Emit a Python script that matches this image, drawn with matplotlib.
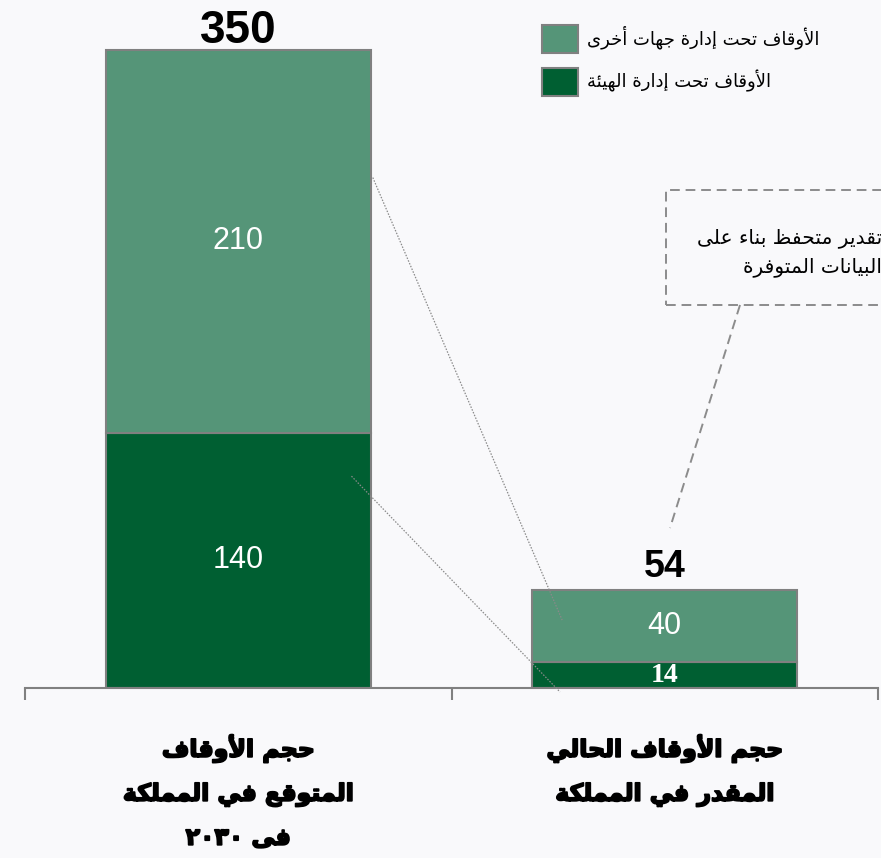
"""Stacked bars: estimated vs. expected waqf volume in the Kingdom (Arabic labels)."""

import re
import unicodedata

import matplotlib

matplotlib.use("Agg")
import matplotlib.patheffects as pe
import matplotlib.pyplot as plt
from matplotlib.lines import Line2D
from matplotlib.patches import Rectangle

# --- data ---------------------------------------------------------------
CATEGORIES = ["حجم الأوقاف\nالمتوقع في المملكة\nفى ٢٠٣٠", "حجم الأوقاف الحالي\nالمقدر في المملكة"]
AUTHORITY = [140, 14]      # الأوقاف تحت إدارة الهيئة
OTHERS = [210, 40]         # الأوقاف تحت إدارة جهات أخرى
TOTALS = [350, 54]
SERIES_LABELS = ["الأوقاف تحت إدارة جهات أخرى", "الأوقاف تحت إدارة الهيئة"]
NOTE = "تقدير متحفظ بناء على\nالبيانات المتوفرة"

DARK = "#005F32"
LIGHT = "#559578"
EDGE = "#808080"
BG = "#F9F9FB"

# --- minimal Arabic shaping (matplotlib has no complex text layout) -----
_LETTERS = [
    ("ء", 0xFE80, 1), ("آ", 0xFE81, 2), ("أ", 0xFE83, 2), ("ؤ", 0xFE85, 2),
    ("إ", 0xFE87, 2), ("ئ", 0xFE89, 4), ("ا", 0xFE8D, 2), ("ب", 0xFE8F, 4),
    ("ة", 0xFE93, 2), ("ت", 0xFE95, 4), ("ث", 0xFE99, 4), ("ج", 0xFE9D, 4),
    ("ح", 0xFEA1, 4), ("خ", 0xFEA5, 4), ("د", 0xFEA9, 2), ("ذ", 0xFEAB, 2),
    ("ر", 0xFEAD, 2), ("ز", 0xFEAF, 2), ("س", 0xFEB1, 4), ("ش", 0xFEB5, 4),
    ("ص", 0xFEB9, 4), ("ض", 0xFEBD, 4), ("ط", 0xFEC1, 4), ("ظ", 0xFEC5, 4),
    ("ع", 0xFEC9, 4), ("غ", 0xFECD, 4), ("ف", 0xFED1, 4), ("ق", 0xFED5, 4),
    ("ك", 0xFED9, 4), ("ل", 0xFEDD, 4), ("م", 0xFEE1, 4), ("ن", 0xFEE5, 4),
    ("ه", 0xFEE9, 4), ("و", 0xFEED, 2), ("ى", 0xFEEF, 2), ("ي", 0xFEF1, 4),
]
FORMS = {ch: tuple(chr(start + k) for k in range(n)) for ch, start, n in _LETTERS}
LAM_ALEF = {"آ": 0xFEF5, "أ": 0xFEF7, "إ": 0xFEF9, "ا": 0xFEFB}
DIGITS = r"0-9\u0660-\u0669"


def _dual(c):
    return c in FORMS and len(FORMS[c]) == 4


def _joinable(c):
    return c in FORMS and len(FORMS[c]) >= 2


def _shape(text):
    chars = list(text)
    out = []
    i = 0
    while i < len(chars):
        c = chars[i]
        before = i > 0 and _dual(chars[i - 1]) and _joinable(c)
        if c == "ل" and i + 1 < len(chars) and chars[i + 1] in LAM_ALEF:
            out.append(chr(LAM_ALEF[chars[i + 1]] + (1 if before else 0)))
            i += 2
            continue
        if c not in FORMS:
            out.append(c)
            i += 1
            continue
        after = _dual(c) and i + 1 < len(chars) and _joinable(chars[i + 1])
        f = FORMS[c]
        if len(f) == 4:
            idx = 3 if (before and after) else 1 if before else 2 if after else 0
        elif len(f) == 2:
            idx = 1 if before else 0
        else:
            idx = 0
        out.append(f[idx])
        i += 1
    return "".join(out)


def ar(text):
    lines = []
    for line in unicodedata.normalize("NFC", text).split("\n"):
        runs = re.findall(f"[{DIGITS}]+|[^{DIGITS}]+", _shape(line))
        lines.append("".join(r if re.match(f"[{DIGITS}]", r) else r[::-1] for r in reversed(runs)))
    return "\n".join(lines)


# --- figure ---------------------------------------------------------------
W, H = 881, 858
fig = plt.figure(figsize=(W / 100, H / 100), dpi=100)
fig.patch.set_facecolor(BG)
ax = fig.add_axes([25 / W, 170 / H, 853 / W, 688 / H])
ax.set_facecolor("none")

x = list(range(len(CATEGORIES)))
width = 0.621
b_dark = ax.bar(x, AUTHORITY, width, color=DARK, edgecolor=EDGE, linewidth=1.5,
                label=ar(SERIES_LABELS[1]), zorder=2)
b_light = ax.bar(x, OTHERS, width, bottom=AUTHORITY, color=LIGHT, edgecolor=EDGE,
                 linewidth=1.5, label=ar(SERIES_LABELS[0]), zorder=2)

ax.set_xlim(-0.5, 1.5)
ax.set_ylim(0, 377.4)

# segment values
for xi, a, o in zip(x, AUTHORITY, OTHERS):
    ax.text(xi, o / 2 + a, f"{o}", ha="center", va="center", color="white",
            fontsize=22, family="Liberation Sans", zorder=4)
    if a > 30:
        ax.text(xi, a / 2, f"{a}", ha="center", va="center", color="white",
                fontsize=22, family="Liberation Sans", zorder=4)
    else:
        ax.text(xi, a / 2, f"{a}", ha="center", va="center", color="white",
                fontsize=20, family="Liberation Serif", fontweight="bold", zorder=4)

# totals
for xi, t, fs, off in zip(x, TOTALS, [33, 27], [5, 9]):
    ax.annotate(f"{t}", (xi, t), xytext=(0, off), textcoords="offset points",
                ha="center", va="baseline", fontsize=fs, fontweight="bold",
                family="Liberation Sans", zorder=4)

# dotted connectors between the bars
half = width / 2
ax.plot([x[0] + half + 0.005, x[1] - half + 0.07], [0.8 * TOTALS[0], 0.69 * TOTALS[1]],
        ls=(0, (1.2, 1.2)), color="#8A8A8A", lw=0.9, zorder=3, clip_on=False)
ax.plot([x[0] + half - 0.045, x[1] - half + 0.065], [0.83 * AUTHORITY[0], -2.2],
        ls=(0, (1.2, 1.2)), color="#8A8A8A", lw=0.9, zorder=3, clip_on=False)

# axis styling
for side in ("left", "right", "top"):
    ax.spines[side].set_visible(False)
ax.spines["bottom"].set_color(EDGE)
ax.spines["bottom"].set_linewidth(1.5)
ax.set_yticks([])
ax.set_xticks([-0.5, 0.5, 1.5])
ax.set_xticklabels([])
ax.tick_params(axis="x", direction="out", length=8.6, width=1.5, color=EDGE)

heavy = [pe.withStroke(linewidth=1.3, foreground="black")]
for xi, cat in zip(x, CATEGORIES):
    ax.annotate(ar(cat), (xi, 0), xytext=(0, -33), textcoords="offset points",
                ha="center", va="top", fontsize=17, fontweight="bold",
                family="DejaVu Sans", linespacing=2.0, annotation_clip=False,
                path_effects=heavy)

# legend
leg = ax.legend(handles=[b_light, b_dark], loc="upper left",
                bbox_to_anchor=(542 / W, 1 - 25 / H), bbox_transform=fig.transFigure,
                frameon=False, borderpad=0, borderaxespad=0,
                handlelength=2.0, handleheight=2.0, handletextpad=0.5,
                labelspacing=0.82, prop={"family": "DejaVu Sans", "size": 13})

# callout box
fig.patches.append(Rectangle((666 / W, 1 - 305 / H), 240 / W, 115 / H,
                             transform=fig.transFigure, fill=False, edgecolor="#8C8C8C",
                             linewidth=1.4, linestyle=(0, (5, 3))))
fig.lines.append(Line2D([740 / W, 670 / W], [1 - 305 / H, 1 - 528 / H],
                        transform=fig.transFigure, color="#8C8C8C", linewidth=1.4,
                        linestyle=(0, (5, 3))))
fig.text(882 / W, 1 - 253 / H, ar(NOTE), ha="right", va="center", fontsize=14.5,
         family="DejaVu Sans", multialignment="right", linespacing=1.6)

fig.savefig("out.png", dpi=100, facecolor=BG)
